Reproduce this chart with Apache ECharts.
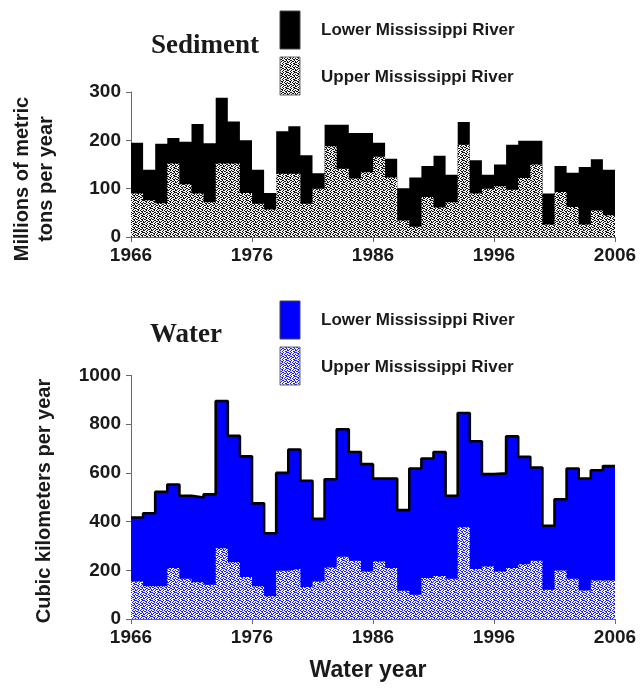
<!DOCTYPE html>
<html>
<head>
<meta charset="utf-8">
<script src="https://cdn.jsdelivr.net/npm/echarts@6/dist/echarts.min.js"></script>
<style>
  html, body { margin: 0; padding: 0; background: #fff; }
  #chart { width: 640px; height: 688px; }
</style>
</head>
<body>
<div id="chart"></div>
<script>
// Water years, one step each
var years = [
  '1966','1967','1968','1969','1970','1971','1972','1973','1974','1975',
  '1976','1977','1978','1979','1980','1981','1982','1983','1984','1985',
  '1986','1987','1988','1989','1990','1991','1992','1993','1994','1995',
  '1996','1997','1998','1999','2000','2001','2002','2003','2004','2005'
];
var yearTickLabels = ['1966', '1976', '1986', '1996', '2006'];

// Sediment, millions of metric tons per year
// (total = upper + lower basin; upper = Upper Mississippi River share)
var sedimentTotal = [
  195, 139, 193, 205, 197, 234, 194, 288, 239, 200,
  139,  91, 219, 229, 169, 132, 232, 232, 215, 215,
  195, 162, 101, 123, 147, 168, 129, 238, 159, 129,
  150, 191, 199, 199,  90, 147, 133, 145, 161, 139
];
var sedimentUpper = [
   90,  76,  70, 152, 109,  90,  72, 152, 152,  91,
   69,  57, 131, 131,  69, 100, 188, 141, 121, 134,
  166, 123,  34,  21,  83,  61,  72, 191,  90, 100,
  105,  98, 122, 150,  26,  93,  62,  26,  55,  45
];

// Water, cubic kilometers per year
var waterTotal = [
  417, 434, 522, 552, 506, 499, 512, 895, 752, 668,
  475, 352, 600, 696, 568, 411, 574, 779, 686, 636,
  577, 577, 447, 618, 659, 686, 506, 846, 730, 595,
  598, 750, 666, 622, 383, 492, 618, 577, 611, 628
];
var waterUpper = [
  154, 134, 134, 209, 165, 151, 141, 291, 233, 172,
  134,  93, 198, 206, 131, 154, 211, 256, 239, 195,
  236, 209, 116, 100, 168, 177, 165, 377, 205, 216,
  195, 209, 225, 239, 120, 199, 165, 117, 158, 158
];

// Speckled fill tiles ('1' = ink, '0' = paper)
function speckle(ink, paper) {
  var map = [
    '10010011',
    '01100100',
    '00101001',
    '11000110',
    '00110010',
    '01001101',
    '10010001',
    '00100110'
  ];
  var c = document.createElement('canvas');
  c.width = map[0].length; c.height = map.length;
  var ctx = c.getContext('2d');
  ctx.fillStyle = paper;
  ctx.fillRect(0, 0, c.width, c.height);
  ctx.fillStyle = ink;
  for (var r = 0; r < map.length; r++) {
    for (var k = 0; k < map[r].length; k++) {
      if (map[r][k] === '1') ctx.fillRect(k, r, 1, 1);
    }
  }
  return c;
}
var greySpeckle = { image: speckle('#101010', '#f2f2f2'), repeat: 'repeat' };
var blueSpeckle = { image: speckle('#1a1aff', '#f4f4ff'), repeat: 'repeat' };

// Each year becomes a flat step from its start to the next year's start
function steps(values) {
  var pts = values.map(function (v, i) { return [i, v]; });
  pts.push([values.length, values[values.length - 1]]);
  return pts;
}

var SANS = '"Liberation Sans", Arial, sans-serif';
var SERIF = '"Liberation Serif", "Times New Roman", serif';
var labelFont = { fontFamily: SANS, fontWeight: 'bold', fontSize: 19, color: '#1a1a1a' };
var axisLineStyle = { color: '#6a6a6a', width: 1 };

function yearAxis(gridIndex) {
  return {
    type: 'value', gridIndex: gridIndex, min: 0, max: years.length, interval: 10,
    position: 'bottom',
    axisLine: { show: true, onZero: false, lineStyle: axisLineStyle },
    axisTick: { show: true, inside: false, length: 5, lineStyle: axisLineStyle },
    axisLabel: Object.assign({ margin: 9, formatter: function (v) { return yearTickLabels[v / 10]; } }, labelFont),
    splitLine: { show: false }
  };
}
function valueAxis(gridIndex, max, interval) {
  return {
    type: 'value', gridIndex: gridIndex, min: 0, max: max, interval: interval,
    axisLine: { show: true, lineStyle: axisLineStyle },
    axisTick: { show: true, inside: false, length: 5, lineStyle: axisLineStyle },
    axisLabel: Object.assign({ margin: 10, formatter: function (v) { return String(v); } }, labelFont),
    splitLine: { show: false }
  };
}
function stepArea(name, gridIndex, values, fill, outline) {
  return {
    name: name, type: 'line', xAxisIndex: gridIndex, yAxisIndex: gridIndex,
    data: steps(values), step: 'end', symbol: 'none', showSymbol: false, silent: true,
    lineStyle: outline ? { color: '#000000', width: 2.6 } : { width: 0, opacity: 0 },
    areaStyle: { color: fill, opacity: 1 }
  };
}

function legendItems(topY, lowerFill, upperFill) {
  var txt = { font: 'bold 17px ' + SANS, fill: '#1a1a1a' };
  return [
    { type: 'rect', shape: { x: 280, y: topY, width: 20, height: 38 },
      style: { fill: lowerFill, stroke: '#444', lineWidth: 1 } },
    { type: 'rect', shape: { x: 280, y: topY + 46, width: 20, height: 38 },
      style: { fill: upperFill, stroke: '#666', lineWidth: 1 } },
    { type: 'text', x: 321, y: topY + 19,
      style: Object.assign({ text: 'Lower Mississippi River', align: 'left', verticalAlign: 'middle',
        textAlign: 'left', textVerticalAlign: 'middle' }, txt) },
    { type: 'text', x: 321, y: topY + 66,
      style: Object.assign({ text: 'Upper Mississippi River', align: 'left', verticalAlign: 'middle',
        textAlign: 'left', textVerticalAlign: 'middle' }, txt) }
  ];
}

function centered(x, y, text, font, rotation) {
  return {
    type: 'text', x: x, y: y, rotation: rotation || 0,
    style: { text: text, font: font, fill: '#1a1a1a', lineHeight: 24,
      align: 'center', verticalAlign: 'middle', textAlign: 'center', textVerticalAlign: 'middle' }
  };
}

var chart = echarts.init(document.getElementById('chart'), null, { renderer: 'canvas' });
chart.setOption({
  animation: false,
  backgroundColor: '#ffffff',
  grid: [
    { left: 131, right: 25, top: 92, height: 145 },
    { left: 131, right: 25, top: 375.5, height: 243.5 }
  ],
  xAxis: [yearAxis(0), yearAxis(1)],
  yAxis: [valueAxis(0, 300, 100), valueAxis(1, 1000, 200)],
  series: [
    stepArea('Lower Mississippi River', 0, sedimentTotal, '#000000', false),
    stepArea('Upper Mississippi River', 0, sedimentUpper, greySpeckle, false),
    stepArea('Lower Mississippi River', 1, waterTotal, '#0000ff', true),
    stepArea('Upper Mississippi River', 1, waterUpper, blueSpeckle, false)
  ],
  graphic: [].concat(
    [
      centered(205, 46, 'Sediment', 'bold 27px ' + SERIF),
      centered(186, 335, 'Water', 'bold 27px ' + SERIF),
      centered(34, 179, 'Millions of metric\ntons per year', 'bold 20px ' + SANS, Math.PI / 2),
      centered(44, 501, 'Cubic kilometers per year', 'bold 20px ' + SANS, Math.PI / 2),
      centered(368, 671, 'Water year', 'bold 23px ' + SANS)
    ],
    legendItems(11, '#000000', greySpeckle),
    legendItems(301, '#0000ff', blueSpeckle)
  )
});
</script>
</body>
</html>
